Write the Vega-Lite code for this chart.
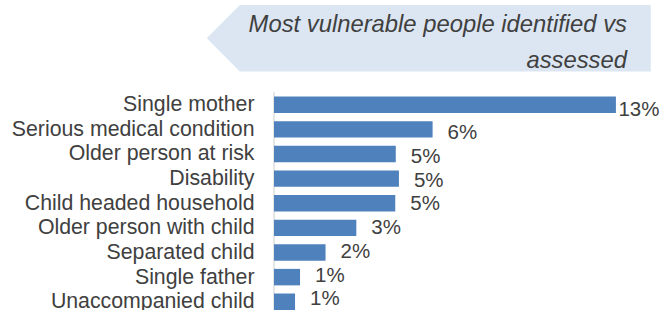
{
  "$schema": "https://vega.github.io/schema/vega-lite/v6.json",
  "autosize": {"type": "none"},
  "padding": {"left": 274, "top": 96.5, "right": 0, "bottom": 0},
  "width": 389,
  "height": 213.5,
  "background": "white",
  "config": {"view": {"stroke": null}, "font": "Liberation Sans"},
  "datasets": {
    "bars": [
      {"cat": "Single mother", "v": 0.130},
      {"cat": "Serious medical condition", "v": 0.0603},
      {"cat": "Older person at risk", "v": 0.0463},
      {"cat": "Disability", "v": 0.0475},
      {"cat": "Child headed household", "v": 0.0461},
      {"cat": "Older person with child", "v": 0.0313},
      {"cat": "Separated child", "v": 0.0196},
      {"cat": "Single father", "v": 0.0099},
      {"cat": "Unaccompanied child", "v": 0.0080}
    ]
  },
  "layer": [
    {
      "data": {"values": [{"px": 0.05886, "py": 38.25}]},
      "mark": {"type": "point", "shape": "M -1 0 L -0.8514 -0.1498 L 1 -0.1498 L 1 0.1498 L -0.8514 0.1498 Z", "size": 197136, "filled": true, "fill": "#DCE6F2", "fillOpacity": 1, "strokeWidth": 0, "opacity": 1, "clip": false},
      "encoding": {
        "x": {"field": "px", "type": "quantitative", "scale": {"domain": [0, 0.1479], "nice": false, "zero": true}, "axis": null},
        "y": {"field": "py", "type": "quantitative", "scale": {"domain": [96.5, 310], "reverse": true, "nice": false, "zero": false}, "axis": null}
      }
    },
    {
      "data": {"values": [{"px": 0.1342, "py": 31.7, "t": "Most vulnerable people identified vs\nassessed"}]},
      "mark": {"type": "text", "align": "right", "baseline": "alphabetic", "fontSize": 23.8, "fontStyle": "italic", "color": "#404040", "lineBreak": "\n", "lineHeight": 36.5, "clip": false},
      "encoding": {
        "x": {"field": "px", "type": "quantitative", "axis": null},
        "y": {"field": "py", "type": "quantitative", "scale": {"domain": [96.5, 310], "reverse": true, "nice": false, "zero": false}, "axis": null},
        "text": {"field": "t"}
      }
    },
    {
      "data": {"values": [{"px": 0, "ya": 92.3, "yb": 314}]},
      "mark": {"type": "rule", "color": "#D9D9D9", "strokeWidth": 1.3, "clip": false},
      "encoding": {
        "x": {"field": "px", "type": "quantitative", "axis": null},
        "y": {"field": "ya", "type": "quantitative", "scale": {"domain": [96.5, 310], "reverse": true, "nice": false, "zero": false}, "axis": null},
        "y2": {"field": "yb"}
      }
    },
    {
      "data": {"name": "bars"},
      "mark": {"type": "bar", "color": "#4F81BD"},
      "encoding": {
        "y": {
          "field": "cat", "type": "nominal", "sort": null,
          "scale": {"paddingInner": 0.33, "paddingOuter": 0, "round": false},
          "axis": {"title": null, "domain": false, "ticks": false, "tickSize": 0, "labelPadding": 20, "labelFontSize": 21.3, "labelColor": "#404040", "labelLimit": 400, "labelFont": "Liberation Sans", "labelOffset": 0.5, "grid": false}
        },
        "x": {"field": "v", "type": "quantitative", "axis": null}
      }
    },
    {
      "data": {"name": "bars"},
      "mark": {"type": "text", "align": "left", "baseline": "middle", "dx": 15, "dy": 1.2, "fontSize": 20.5, "color": "#404040", "clip": false},
      "encoding": {
        "y": {"field": "cat", "type": "nominal", "sort": null, "scale": {"paddingInner": 0.33, "paddingOuter": 0, "round": false}, "axis": null},
        "x": {"field": "v", "type": "quantitative", "axis": null},
        "text": {"condition": {"test": "datum.v >= 0.1", "value": ""}, "field": "v", "type": "quantitative", "format": ".0%"}
      }
    },
    {
      "data": {"name": "bars"},
      "mark": {"type": "text", "align": "left", "baseline": "middle", "dx": 2.5, "dy": 1.2, "fontSize": 20.5, "color": "#404040", "clip": false},
      "encoding": {
        "y": {"field": "cat", "type": "nominal", "sort": null, "scale": {"paddingInner": 0.33, "paddingOuter": 0, "round": false}, "axis": null},
        "x": {"field": "v", "type": "quantitative", "axis": null},
        "text": {"condition": {"test": "datum.v < 0.1", "value": ""}, "field": "v", "type": "quantitative", "format": ".0%"}
      }
    }
  ],
  "resolve": {"scale": {"y": "independent"}, "axis": {"y": "independent"}}
}
